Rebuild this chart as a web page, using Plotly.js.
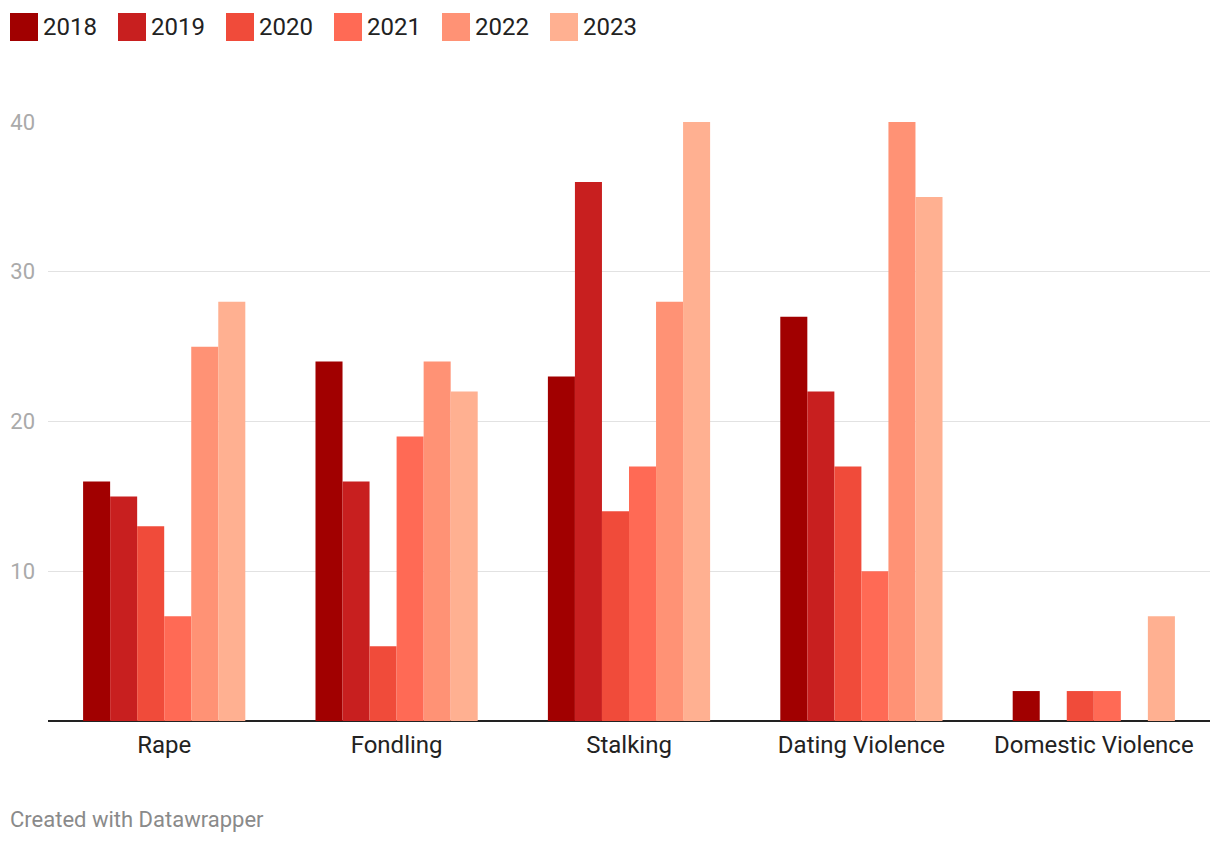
<!DOCTYPE html>
<html>
<head>
<meta charset="utf-8">
<script src="https://cdn.plot.ly/plotly-3.0.1.min.js"></script>
<style>
  html, body { margin: 0; padding: 0; background: #fff; }
  #chart { width: 1220px; height: 844px; }
</style>
</head>
<body>
<div id="chart"></div>
<script>
const categories = ["Rape", "Fondling", "Stalking", "Dating Violence", "Domestic Violence"];
const years = ["2018", "2019", "2020", "2021", "2022", "2023"];
const v2018 = [16, 24, 23, 27, 2];
const v2019 = [15, 16, 36, 22, 0];
const v2020 = [13, 5, 14, 17, 2];
const v2021 = [7, 19, 17, 10, 2];
const v2022 = [25, 24, 28, 40, 0];
const v2023 = [28, 22, 40, 35, 7];
const yTicks = [10, 20, 30, 40];

const seriesValues = [v2018, v2019, v2020, v2021, v2022, v2023];
const colors = ["#a10000", "#c81f1f", "#f04b3a", "#ff6a55", "#ff9275", "#ffb091"];

const W = 1220, H = 844;
const M = { l: 48, r: 10, t: 122, b: 123 };
const pw = W - M.l - M.r, ph = H - M.t - M.b;
const px = x => (x - M.l) / pw;
const py = y => (H - M.b - y) / ph;

const traces = years.map((yr, i) => ({
  type: "bar",
  name: yr,
  x: categories,
  y: seriesValues[i],
  marker: { color: colors[i], line: { width: 0 } },
  hoverinfo: "x+y+name",
  showlegend: false
}));

const shapes = [];
const annotations = [];
years.forEach((yr, i) => {
  const x0 = 10 + i * 108;
  shapes.push({
    type: "rect", xref: "paper", yref: "paper",
    x0: px(x0), x1: px(x0 + 28), y0: py(41), y1: py(13),
    fillcolor: colors[i], line: { width: 0 }
  });
  annotations.push({
    xref: "paper", yref: "paper", x: px(x0 + 31), y: py(27),
    xanchor: "left", yanchor: "middle", showarrow: false,
    text: yr, font: { family: "Roboto, sans-serif", size: 24, color: "#222" }
  });
});
annotations.push({
  xref: "paper", yref: "paper", x: px(8), y: py(819),
  xanchor: "left", yanchor: "middle", showarrow: false,
  text: "Created with Datawrapper",
  font: { family: "Roboto, sans-serif", size: 22, color: "#8a8a8a" }
});

const layout = {
  width: W, height: H,
  margin: M,
  paper_bgcolor: "#fff", plot_bgcolor: "#fff",
  font: { family: "Roboto, sans-serif" },
  barmode: "group",
  bargap: 0.302,
  bargroupgap: 0,
  xaxis: {
    type: "category",
    showgrid: false,
    showline: false,
    ticks: "",
    tickfont: { size: 24, color: "#222" },
    ticklabelstandoff: 7,
    fixedrange: true
  },
  yaxis: {
    range: [0, 40],
    tickvals: yTicks,
    ticktext: yTicks.map(String),
    showgrid: true,
    gridcolor: "#e2e2e2",
    gridwidth: 1,
    zeroline: true,
    zerolinecolor: "#222",
    zerolinewidth: 2,
    showline: false,
    ticks: "",
    tickfont: { size: 22, color: "#aaaaaa" },
    ticklabelstandoff: 12,
    fixedrange: true
  },
  shapes: shapes,
  annotations: annotations,
  showlegend: false
};

Plotly.newPlot("chart", traces, layout, { displayModeBar: false, staticPlot: true });
</script>
</body>
</html>
